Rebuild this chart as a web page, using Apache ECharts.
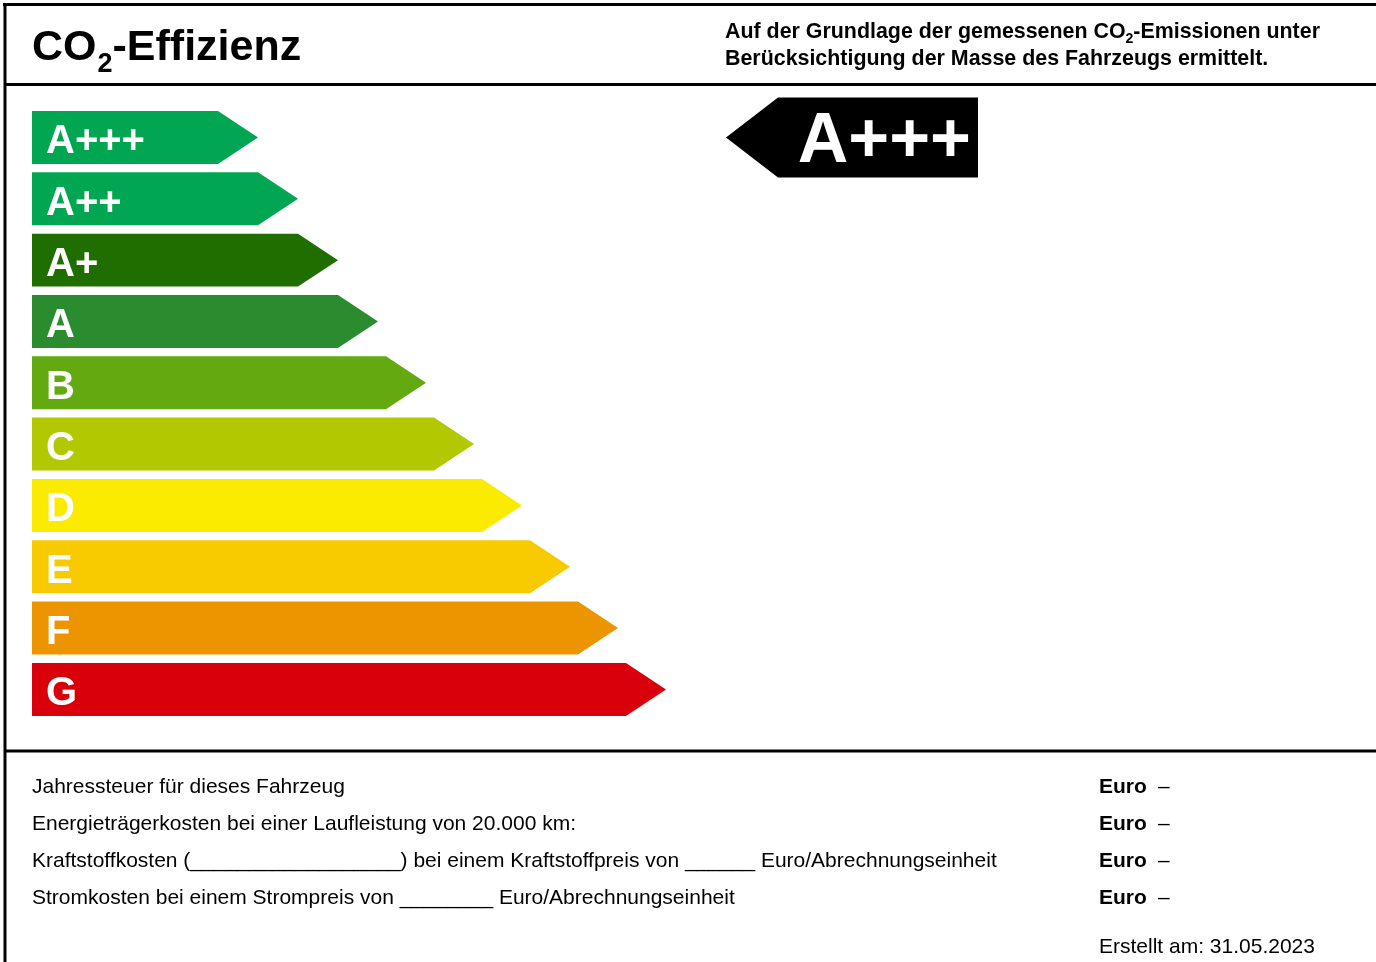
<!DOCTYPE html>
<html><head><meta charset="utf-8">
<script src="https://cdn.jsdelivr.net/npm/echarts@6/dist/echarts.min.js"></script>
<style>html,body{margin:0;padding:0;background:#fff}#c{width:1376px;height:962px}</style>
</head><body><div id="c"></div>
<script>
// ---- data ----
const classes = ['A+++','A++','A+','A','B','C','D','E','F','G'];
const barLengths = [226, 266, 306, 346, 394, 442, 490, 538, 586, 634];
const classColors = ['#00a651','#00a651','#206e00','#2a8c2e','#62aa10','#b2c800','#fbeb00','#f7cb00','#ec9500','#d9000c'];
const ratedClass = 'A+++';
const footerLabels = [
  'Jahressteuer für dieses Fahrzeug',
  'Energieträgerkosten bei einer Laufleistung von 20.000 km:',
  'Kraftstoffkosten (__________________) bei einem Kraftstoffpreis von ______ Euro/Abrechnungseinheit',
  'Stromkosten bei einem Strompreis von ________ Euro/Abrechnungseinheit'
];
const footerUnits = ['Euro','Euro','Euro','Euro'];
const footerValues = ['–','–','–','–'];
const createdText = 'Erstellt am: 31.05.2023';

const FONT = '"Liberation Sans", Arial, Helvetica, sans-serif';
const cv = document.createElement('canvas').getContext('2d');
function tw(t, size, bold){ cv.font = (bold?'bold ':'') + size + 'px ' + FONT; return cv.measureText(t).width; }

const chart = echarts.init(document.getElementById('c'), null, {renderer:'canvas'});
const graphics = [];
function txt(x, y, t, size, bold, color){
  graphics.push({type:'text', x:x, y:y, silent:true, style:{text:t, fill:color||'#000', font:(bold?'bold ':'')+size+'px '+FONT, textAlign:'left', textVerticalAlign:'middle', verticalAlign:'middle'}});
}
// frame lines
function line(x1,y1,x2,y2,w){ graphics.push({type:'line', silent:true, shape:{x1,y1,x2,y2}, style:{stroke:'#000', lineWidth:w}}); }
line(3,4.5,1376,4.5,3);
line(5,3,5,962,3);
line(5,84.5,1376,84.5,3);
line(5,751,1376,751,3);
// title CO2-Effizienz
(function(){
  let x = 32, s = 43, ss = 27;
  txt(x, 48, 'CO', s, true); x += tw('CO', s, true) + 1;
  txt(x, 65, '2', ss, true); x += tw('2', ss, true);
  txt(x, 48, '-Effizienz', s, true);
})();
// header note
(function(){
  let x = 725, s = 21.4, ss = 14;
  const a = 'Auf der Grundlage der gemessenen CO';
  txt(x, 32, a, s, true); x += tw(a, s, true);
  txt(x, 39, '2', ss, true); x += tw('2', ss, true);
  txt(x, 32, '-Emissionen unter', s, true);
  txt(725, 59, 'Berücksichtigung der Masse des Fahrzeugs ermittelt.', s, true);
})();
// footer
const fy = [787, 824, 861, 898];
footerLabels.forEach((t,i)=>{
  txt(32, fy[i], t, 21, false);
  txt(1099, fy[i], footerUnits[i], 21, true);
  txt(1158, fy[i], footerValues[i], 21, false);
});
txt(1099, 947, createdText, 21, false);

const option = {
  animation:false,
  backgroundColor:'#fff',
  grid:{left:32, right:0, top:106.8, height:613.3, containLabel:false},
  xAxis:{type:'value', min:0, max:1344, show:false},
  yAxis:{type:'category', data:classes, inverse:true, show:false},
  series:[
    {
      type:'custom',
      data: classes.map((c,i)=>[barLengths[i], c]),
      encode:{x:0, y:1},
      renderItem:function(params, api){
        const i = params.dataIndex;
        const p0 = api.coord([0, api.value(1)]);
        const p1 = api.coord([api.value(0), api.value(1)]);
        const band = api.size([0,1])[1];
        const h = band * 0.864;
        const d = h * 0.755;
        const top = p0[1] - h/2, bot = p0[1] + h/2;
        return {type:'group', children:[
          {type:'polygon', shape:{points:[[p0[0],top],[p1[0]-d,top],[p1[0],p0[1]],[p1[0]-d,bot],[p0[0],bot]]}, style:{fill:classColors[i]}},
          {type:'text', x:p0[0]+14, y:p0[1]+5, style:{text:classes[i], fill:'#fff', font:'bold 40px '+FONT, textAlign:'left', verticalAlign:'middle', textVerticalAlign:'middle'}}
        ]};
      }
    },
    {
      type:'custom',
      data:[[946, ratedClass]],
      encode:{x:0, y:1},
      renderItem:function(params, api){
        const pr = api.coord([api.value(0), api.value(1)]);
        const pt = api.coord([694, api.value(1)]);
        const h = 80, d = 52;
        const top = pr[1]-h/2, bot = pr[1]+h/2;
        return {type:'group', children:[
          {type:'polygon', shape:{points:[[pt[0],pr[1]],[pt[0]+d,top],[pr[0],top],[pr[0],bot],[pt[0]+d,bot]]}, style:{fill:'#000'}},
          {type:'text', x:pr[0]-7, y:pr[1]+5, style:{text:ratedClass, fill:'#fff', font:'bold 70px '+FONT, textAlign:'right', verticalAlign:'middle', textVerticalAlign:'middle'}}
        ]};
      }
    }
  ],
  graphic: graphics
};
chart.setOption(option);
</script>
</body></html>
